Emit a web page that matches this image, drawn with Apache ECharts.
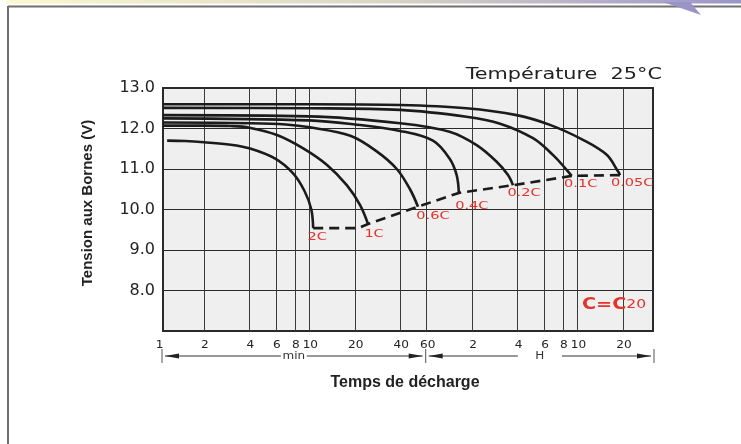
<!DOCTYPE html>
<html><head><meta charset="utf-8">
<script src="https://cdn.jsdelivr.net/npm/echarts/dist/echarts.min.js"></script>
<style>html,body{margin:0;padding:0;background:#fff;}#c{width:741px;height:444px;}</style>
</head><body><div id="c"></div>
<script>
// ---- data (time in minutes, voltage in V) ----
const tickValues = [1, 2, 4, 6, 8, 10, 20, 40, 60, 120, 240, 360, 480, 600, 1200];
const tickLabels = ['1', '2', '4', '6', '8', '10', '20', '40', '60', '2', '4', '6', '8', '10', '20'];
const rateNames = ['2C', '1C', '0.6C', '0.4C', '0.2C', '0.1C', '0.05C'];
const curve2C = [[1.14, 11.70], [1.5, 11.69], [2, 11.66], [3, 11.60], [4, 11.51], [5.9, 11.26], [7.8, 10.89], [9.3, 10.45], [10.3, 10.0], [10.6, 9.54]];
const curve1C = [[1.07, 12.07], [2, 12.07], [3, 12.06], [4, 12.02], [6.1, 11.84], [9.1, 11.51], [13.1, 11.10], [17.7, 10.60], [21.7, 10.11], [24.5, 9.64]];
const curve06C = [[1.07, 12.15], [4, 12.13], [7, 12.10], [10.1, 12.03], [18.7, 11.82], [28.1, 11.43], [38, 11.0], [46.5, 10.5], [52.5, 10.07]];
const curve04C = [[1.07, 12.25], [10, 12.20], [20, 12.10], [40, 11.94], [66, 11.70], [85, 11.26], [94.8, 10.85], [98, 10.41]];
const curve02C = [[1.07, 12.33], [10, 12.30], [40, 12.13], [85, 11.92], [128.6, 11.59], [174.6, 11.18], [207.6, 10.85], [224, 10.60]];
const curve01C = [[1.07, 12.51], [10, 12.50], [40, 12.46], [110, 12.29], [184, 12.12], [304, 11.76], [412, 11.35], [508, 10.98], [549, 10.83]];
const curve005C = [[1.07, 12.60], [10, 12.60], [40, 12.58], [110, 12.50], [237, 12.33], [394, 12.09], [652, 11.72], [937, 11.35], [1118, 10.93], [1150, 10.85]];
const endLine = [[10.6, 9.54], [21, 9.54], [24.5, 9.64], [52.5, 10.07], [98, 10.41], [224, 10.60], [549, 10.83], [560, 10.85], [1150, 10.85]];
const curves = [curve2C, curve1C, curve06C, curve04C, curve02C, curve01C, curve005C];
const xMin = 1.07, xMax = 1900, yMin = 7, yMax = 13;

// ---- styles (label offsets in px) ----
const labelOffsets = [[4, 9], [6, 10], [15, 10], [13, 14], [11, 8], [9, 9], [12, 8]];

const chart = echarts.init(document.getElementById('c'), null, {renderer: 'canvas'});
const series = curves.map((d, i) => ({
  name: rateNames[i], type: 'line', data: d, smooth: 0.35,
  showSymbol: false, symbol: 'none', z: 5,
  lineStyle: {color: '#1b1b1b', width: 2.6}
}));
series.push({
  name: 'end', type: 'line', data: endLine, showSymbol: false, symbol: 'none', z: 5,
  lineStyle: {color: '#1b1b1b', width: 2.6, type: [10, 6]}
});
series.push({
  name: 'grid', type: 'line', data: [[10, 8]], showSymbol: false, symbol: 'none', z: 1,
  lineStyle: {width: 0}, silent: true,
  markLine: {
    silent: true, symbol: ['none', 'none'], label: {show: false},
    lineStyle: {color: '#3a3a3a', width: 1, type: 'solid'},
    emphasis: {disabled: true},
    data: tickValues.filter(v => v > xMin).map(v => ({xAxis: v}))
  }
});

chart.setOption({
  animation: false,
  backgroundColor: '#ffffff',
  grid: {left: 163, right: 88, top: 88, bottom: 113, show: true, backgroundColor: '#efefef', borderColor: '#2a2a2a', borderWidth: 2},
  xAxis: {type: 'log', logBase: 10, min: xMin, max: xMax,
    axisLabel: {show: false}, axisTick: {show: false}, axisLine: {show: false}, splitLine: {show: false}, minorSplitLine: {show: false}},
  yAxis: {type: 'value', min: yMin, max: yMax, interval: 1,
    axisLabel: {formatter: v => v === yMin ? '' : v.toFixed(1), fontFamily: 'DejaVu Sans', fontSize: 16, color: '#222', margin: 8},
    axisTick: {show: false}, axisLine: {show: false},
    splitLine: {show: true, lineStyle: {color: '#2a2a2a', width: 1}}},
  series: series
});

const P = (x, y) => chart.convertToPixel({gridIndex: 0}, [x, y]);
const g = [];
// decorative frame
g.push({type: 'rect', shape: {x: 6, y: 0, width: 735, height: 3.5, r: [3, 0, 0, 0]}, style: {fill: new echarts.graphic.LinearGradient(0, 0, 1, 0, [{offset: 0, color: '#fcf8cf'}, {offset: 0.5, color: '#dcd6c4'}, {offset: 1, color: '#9b95c9'}])}, z: 10});
g.push({type: 'line', shape: {x1: 8, y1: 6.5, x2: 741, y2: 6.5}, style: {stroke: '#707070', lineWidth: 2}, z: 10});
g.push({type: 'line', shape: {x1: 8, y1: 6, x2: 8, y2: 444}, style: {stroke: '#707070', lineWidth: 2}, z: 10});
g.push({type: 'polygon', shape: {points: [[663, 2], [690, 2], [701, 15]]}, style: {fill: '#9a93c7'}, z: 11});

// x tick labels
const yb = P(xMin, yMin)[1];
tickValues.forEach((v, i) => {
  const p = P(v, yMin);
  g.push({type: 'text', x: p[0] + 1, y: yb + 14, scaleX: 1.1, style: {text: tickLabels[i], fontFamily: 'DejaVu Sans', fontSize: 11, fill: '#222', align: 'center', verticalAlign: 'middle'}, z: 10});
});
// arrow row
const ay = yb + 25;
const xL = P(xMin, yMin)[0] - 1, xM = P(60, yMin)[0] - 1, xR = P(xMax, yMin)[0] + 1;
[xL, xM, xR].forEach(x => g.push({type: 'line', shape: {x1: x, y1: ay - 7, x2: x, y2: ay + 7}, style: {stroke: '#555', lineWidth: 1}, z: 10}));
function arrowSeg(a, b, label, gap) {
  const mid = (a + b) / 2;
  g.push({type: 'line', shape: {x1: a + 3, y1: ay, x2: mid - gap, y2: ay}, style: {stroke: '#333', lineWidth: 1}, z: 10});
  g.push({type: 'line', shape: {x1: mid + gap, y1: ay, x2: b - 3, y2: ay}, style: {stroke: '#333', lineWidth: 1}, z: 10});
  g.push({type: 'polygon', shape: {points: [[a + 3, ay], [a + 17, ay - 2.5], [a + 17, ay + 2.5]]}, style: {fill: '#222'}, z: 10});
  g.push({type: 'polygon', shape: {points: [[b - 3, ay], [b - 17, ay - 2.5], [b - 17, ay + 2.5]]}, style: {fill: '#222'}, z: 10});
  g.push({type: 'text', x: mid, y: ay, scaleX: 1.2, style: {text: label, fontFamily: 'DejaVu Sans', fontSize: 10, fill: '#333', align: 'center', verticalAlign: 'middle'}, z: 10});
}
arrowSeg(xL, xM, 'min', 13);
arrowSeg(xM, xR, 'H', 22);

// rate labels
curves.forEach((d, i) => {
  const e = P(d[d.length - 1][0], d[d.length - 1][1]);
  g.push({type: 'text', x: e[0] + labelOffsets[i][0], y: e[1] + labelOffsets[i][1], scaleX: 1.45, style: {text: rateNames[i], fontFamily: 'DejaVu Sans', fontSize: 10, fill: '#e5322b', align: 'center', verticalAlign: 'middle'}, z: 10});
});
// titles
g.push({type: 'text', x: 662, y: 75, scaleX: 1.3, style: {text: 'Température  25°C', fontFamily: 'DejaVu Sans', fontSize: 16, fill: '#222', align: 'right', verticalAlign: 'middle'}, z: 10});
g.push({type: 'text', x: 582, y: 305, scaleX: 1.2, style: {text: '{b|C=C}{n|20}', fill: '#e5322b', align: 'left', verticalAlign: 'middle', rich: {b: {fontFamily: 'DejaVu Sans', fontWeight: 'bold', fontSize: 16, fill: '#e5322b'}, n: {fontFamily: 'DejaVu Sans', fontSize: 13, fill: '#e5322b'}}}, z: 10});
g.push({type: 'text', x: 405, y: 383, style: {text: 'Temps de décharge', fontFamily: 'Liberation Sans', fontWeight: 'bold', fontSize: 16, fill: '#222', align: 'center', verticalAlign: 'middle'}, z: 10});
g.push({type: 'text', x: 88, y: 203, rotation: Math.PI / 2, style: {text: 'Tension aux Bornes (V)', fontFamily: 'Liberation Sans', fontWeight: 'bold', fontSize: 15, fill: '#222', align: 'center', verticalAlign: 'middle'}, z: 10});

chart.setOption({graphic: {elements: g}});
</script></body></html>
